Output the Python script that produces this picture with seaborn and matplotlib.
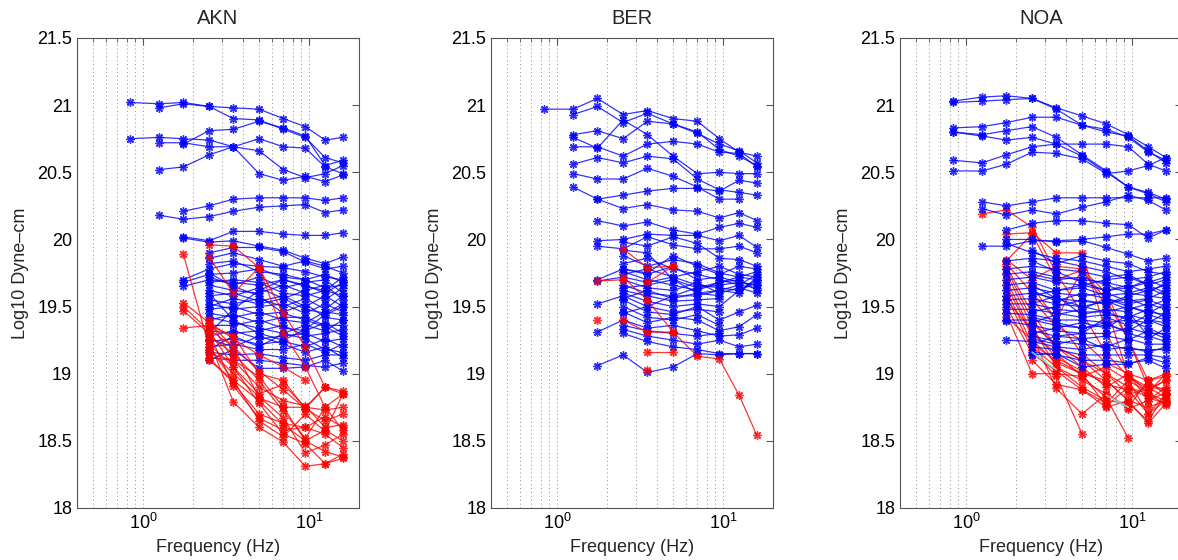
import numpy as np
import pandas as pd
import matplotlib
matplotlib.use("Agg")
import matplotlib.pyplot as plt
import matplotlib.ticker as mticker
import seaborn as sns

n = np.nan
freqs = [0.83, 1.25, 1.75, 2.5, 3.5, 5.0, 7.0, 9.5, 12.5, 16.0]
stations = ["AKN", "BER", "NOA"]
ytick_vals = [18, 18.5, 19, 19.5, 20, 20.5, 21, 21.5]

akn_blue = [
    [21.02, 21.01, 21.02, 20.99, 20.98, 20.97, 20.90, 20.84, 20.74, 20.76],
    [n, 20.98, 21.01, 20.99, 20.90, 20.89, 20.82, 20.76, 20.61, 20.57],
    [20.75, 20.76, 20.75, 20.74, 20.69, 20.66, 20.52, 20.46, 20.49, 20.55],
    [n, 20.72, 20.72, 20.69, 20.69, 20.75, 20.69, 20.68, 20.54, 20.49],
    [n, n, 20.71, 20.81, 20.82, 20.88, 20.83, 20.77, 20.55, 20.59],
    [n, 20.52, 20.54, 20.63, 20.69, 20.49, 20.44, 20.47, 20.43, 20.48],
    [n, n, 20.21, 20.25, 20.30, 20.31, 20.31, 20.31, 20.29, 20.31],
    [n, 20.18, 20.15, 20.17, 20.21, 20.24, 20.25, 20.26, 20.20, 20.22],
    [n, n, 20.02, 19.99, 20.06, 20.06, 20.04, 20.03, 20.03, 20.05],
    [n, n, 20.01, 19.98, 19.99, 19.95, 19.92, 19.86, 19.82, 19.87],
    [n, n, n, 19.90, 19.94, 19.94, 19.91, 19.83, 19.78, 19.80],
    [n, n, n, 19.86, 19.90, 19.85, 19.80, 19.84, 19.80, 19.75],
    [n, n, 19.70, 19.78, 19.82, 19.80, 19.79, 19.76, 19.72, 19.70],
    [n, n, 19.68, 19.74, 19.75, 19.78, 19.72, 19.70, 19.74, 19.68],
    [n, n, 19.65, 19.70, 19.68, 19.66, 19.70, 19.65, 19.62, 19.72],
    [n, n, n, 19.72, 19.66, 19.72, 19.64, 19.68, 19.70, 19.60],
    [n, n, n, 19.66, 19.62, 19.60, 19.66, 19.60, 19.55, 19.64],
    [n, n, n, 19.62, 19.58, 19.64, 19.56, 19.62, 19.66, 19.55],
    [n, n, n, 19.58, 19.60, 19.54, 19.58, 19.50, 19.58, 19.50],
    [n, n, n, 19.55, 19.52, 19.56, 19.50, 19.56, 19.48, 19.58],
    [n, n, n, 19.52, 19.48, 19.50, 19.52, 19.45, 19.52, 19.46],
    [n, n, n, 19.48, 19.50, 19.44, 19.46, 19.52, 19.42, 19.40],
    [n, n, n, 19.45, 19.42, 19.46, 19.40, 19.38, 19.46, 19.44],
    [n, n, n, 19.40, 19.44, 19.38, 19.42, 19.42, 19.36, 19.36],
    [n, n, n, 19.36, 19.36, 19.40, 19.34, 19.32, 19.38, 19.30],
    [n, n, n, 19.32, 19.30, 19.32, 19.36, 19.28, 19.30, 19.33],
    [n, n, n, 19.28, 19.32, 19.26, 19.28, 19.30, 19.24, 19.26],
    [n, n, n, 19.24, 19.26, 19.22, 19.24, 19.20, 19.26, 19.20],
    [n, n, n, 19.20, 19.22, 19.18, 19.18, 19.22, 19.16, 19.22],
    [n, n, n, 19.16, 19.14, 19.15, 19.12, 19.10, 19.14, 19.14],
    [n, n, n, 19.12, 19.10, 19.10, 19.08, 19.06, 19.05, 19.08],
    [n, n, n, 19.10, 19.18, 19.04, 19.04, 19.05, 19.10, 19.02],
    [n, n, n, 19.30, 19.48, 19.62, 19.70, 19.66, 19.60, 19.68],
    [n, n, n, 19.60, 19.40, 19.30, 19.25, 19.33, 19.44, 19.50],
    [n, n, n, 19.75, 19.65, 19.58, 19.45, 19.40, 19.35, 19.28],
    [n, n, n, 19.82, 19.84, 19.76, 19.74, 19.70, 19.64, 19.66],
    [n, n, n, 19.68, 19.70, 19.68, 19.60, 19.58, 19.62, 19.58],
    [n, n, n, 19.50, 19.56, 19.52, 19.56, 19.48, 19.45, 19.52],
    [n, n, n, 19.42, 19.38, 19.34, 19.30, 19.36, 19.32, 19.40],
    [n, n, n, 19.26, 19.20, 19.28, 19.22, 19.16, 19.20, 19.12],
    [n, n, n, 19.18, 19.28, 19.20, 19.30, 19.26, 19.18, 19.16],
]

akn_red = [
    [n, n, 19.89, 19.20, 18.95, 18.80, 18.62, 18.50, 18.42, 18.38],
    [n, n, n, 19.96, 19.95, 19.79, 19.45, 19.20, 18.90, n],
    [n, n, n, 19.87, 19.60, 19.79, 19.30, 19.05, 18.75, 18.85],
    [n, n, 19.53, 19.38, 19.20, 18.82, 18.75, 18.75, 18.90, 18.87],
    [n, n, 19.50, 19.32, 19.05, 18.85, 18.92, 18.75, 18.73, 18.75],
    [n, n, 19.47, 19.30, 18.91, 18.67, 18.58, 18.60, 18.68, 18.60],
    [n, n, 19.34, 19.36, 19.28, 19.00, 18.95, 18.74, 18.90, 18.85],
    [n, n, n, 19.40, 19.10, 18.98, 18.75, 18.50, 18.58, 18.50],
    [n, n, n, 19.25, 18.79, 18.60, 18.49, 18.31, 18.33, 18.37],
    [n, n, n, 19.18, 19.00, 18.83, 18.67, 18.41, 18.47, 18.55],
    [n, n, n, 19.12, 18.93, 18.70, 18.63, 18.60, 18.55, 18.45],
    [n, n, n, 19.15, 19.10, 18.90, 18.80, 18.76, 18.60, 18.62],
    [n, n, n, 19.28, 19.15, 18.95, 18.72, 18.52, 18.75, 18.58],
    [n, n, n, 19.22, 19.05, 18.78, 18.55, 18.48, 18.33, 18.40],
    [n, n, n, 19.33, 19.20, 19.02, 18.88, 18.74, 18.65, 18.70],
    [n, n, n, 19.10, 18.95, 18.65, 18.53, 18.70, 18.57, 18.85],
    [n, n, n, 19.38, 19.26, 19.14, 19.05, 18.95, n, n],
]

ber_blue = [
    [20.97, 20.97, 21.05, 20.93, 20.96, 20.90, 20.88, 20.75, 20.65, 20.62],
    [n, 20.93, 20.99, 20.87, 20.94, 20.86, 20.79, 20.71, 20.66, 20.57],
    [n, 20.78, 20.81, 20.75, 20.88, 20.86, 20.80, 20.67, 20.62, 20.55],
    [n, 20.76, 20.68, 20.89, 20.78, 20.62, 20.49, 20.50, 20.49, 20.49],
    [n, 20.69, 20.69, 20.62, 20.71, 20.73, 20.71, 20.65, 20.64, 20.54],
    [n, 20.56, 20.61, 20.57, 20.62, 20.60, 20.45, 20.37, 20.35, 20.33],
    [n, 20.49, 20.45, 20.45, 20.53, 20.47, 20.39, 20.30, 20.30, n],
    [n, 20.39, 20.30, 20.33, 20.36, 20.38, 20.38, 20.36, 20.44, 20.42],
    [n, n, 20.30, 20.23, 20.26, 20.22, 20.21, 20.16, 20.20, 20.14],
    [n, n, 20.14, 20.10, 20.13, 20.07, 20.04, 20.09, 20.12, 20.09],
    [n, n, 19.99, 20.00, 20.04, 20.03, 20.03, 19.99, 20.03, 19.94],
    [n, n, 19.95, 19.93, 20.02, 19.96, 19.93, 19.93, 19.95, 19.90],
    [n, n, n, 19.88, 19.80, 19.85, 19.82, 19.75, 19.72, 19.70],
    [n, n, n, 19.82, 19.86, 19.78, 19.74, 19.70, 19.66, 19.74],
    [n, n, 19.70, 19.78, 19.74, 19.80, 19.70, 19.72, 19.68, 19.66],
    [n, n, 19.69, 19.72, 19.68, 19.72, 19.66, 19.64, 19.62, 19.70],
    [n, n, n, 19.76, 19.70, 19.66, 19.62, 19.68, 19.70, 19.62],
    [n, n, n, 19.70, 19.64, 19.62, 19.68, 19.60, 19.64, 19.60],
    [n, n, n, 19.66, 19.60, 19.58, 19.58, 19.62, 19.60, 19.72],
    [n, n, n, 19.62, 19.58, 19.54, 19.55, 19.56, n, n],
    [n, n, n, 19.60, 19.54, 19.50, 19.52, 19.50, 19.62, 19.68],
    [n, n, 19.52, 19.58, 19.50, 19.46, 19.48, 19.46, n, n],
    [n, n, n, 19.55, 19.46, 19.44, 19.50, 19.40, 19.46, 19.51],
    [n, n, n, 19.50, 19.42, 19.40, 19.44, 19.36, n, n],
    [n, n, n, 19.46, 19.38, 19.42, 19.40, 19.32, 19.35, 19.44],
    [n, n, 19.31, 19.40, 19.34, 19.36, 19.32, 19.28, 19.29, 19.34],
    [n, n, n, 19.36, 19.32, 19.30, 19.28, 19.30, n, n],
    [n, n, n, 19.33, 19.28, 19.25, 19.22, 19.25, 19.20, 19.22],
    [n, n, n, 19.30, 19.24, 19.20, 19.18, 19.15, 19.15, 19.15],
    [n, n, 19.06, 19.14, 19.01, 19.05, 19.15, 19.14, 19.15, 19.15],
    [n, n, n, 19.78, 19.75, 19.88, 19.80, 19.74, 19.80, 19.78],
    [n, n, n, 19.92, 19.90, 19.70, 19.60, 19.62, 19.66, 19.64],
    [n, n, n, 19.45, 19.50, 19.58, 19.64, 19.68, 19.72, 19.76],
    [n, n, n, 19.98, 19.95, 20.02, 19.97, 19.86, 19.85, 19.80],
    [n, n, n, 19.74, 19.78, 19.72, 19.76, 19.80, 19.74, 19.72],
    [n, n, n, 19.64, 19.66, 19.70, 19.64, 19.66, 19.68, 19.66],
    [n, n, n, 19.56, 19.62, 19.56, 19.60, 19.58, n, n],
]

ber_red = [
    [n, n, 19.69, 19.70, n, n, n, n, n, n],
    [n, n, n, 19.93, 19.79, 19.80, n, n, n, n],
    [n, n, n, n, 19.68, 19.80, n, n, n, n],
    [n, n, n, 19.72, 19.55, 19.31, 19.13, 19.11, 18.84, 18.54],
    [n, n, 19.40, n, n, n, n, n, n, n],
    [n, n, n, 19.40, 19.31, 19.31, n, n, n, n],
    [n, n, n, n, 19.16, 19.16, n, n, n, n],
    [n, n, n, n, 19.03, n, n, n, n, n],
]

noa_blue = [
    [21.03, 21.06, 21.07, 21.05, 20.98, 20.92, 20.86, 20.78, 20.69, 20.61],
    [21.02, 21.03, 21.04, 21.05, 20.97, 20.85, 20.82, 20.76, 20.65, 20.59],
    [20.83, 20.84, 20.87, 20.91, 20.91, 20.85, 20.80, 20.77, 20.66, 20.57],
    [20.80, 20.78, 20.81, 20.84, 20.76, 20.63, 20.51, 20.39, 20.35, 20.30],
    [20.80, 20.77, 20.74, 20.76, 20.71, 20.71, 20.71, 20.69, 20.56, 20.51],
    [20.59, 20.57, 20.63, 20.69, 20.71, 20.62, 20.50, 20.39, 20.34, 20.28],
    [20.51, 20.51, 20.56, 20.65, 20.64, 20.60, 20.49, 20.51, 20.55, 20.61],
    [n, 20.28, 20.25, 20.28, 20.31, 20.31, 20.31, 20.31, 20.31, 20.31],
    [n, 20.23, 20.18, 20.22, 20.19, 20.24, 20.28, 20.33, 20.29, 20.22],
    [n, n, 20.07, 20.12, 20.14, 20.14, 20.12, 20.11, 20.01, 20.07],
    [n, 19.95, 19.95, 19.99, 19.99, 20.00, 20.02, 20.04, 20.04, 20.07],
    [n, n, 20.00, 20.00, 19.98, 19.99, 19.94, 19.89, 19.84, 19.86],
    [n, n, 19.84, 19.86, 19.84, 19.80, 19.76, 19.70, 19.72, 19.76],
    [n, n, 19.78, 19.80, 19.78, 19.76, 19.72, 19.74, 19.66, 19.70],
    [n, n, 19.74, 19.76, 19.72, 19.70, 19.68, 19.64, 19.70, 19.64],
    [n, n, 19.70, 19.72, 19.68, 19.66, 19.62, 19.66, 19.60, 19.68],
    [n, n, 19.66, 19.68, 19.62, 19.64, 19.58, 19.60, 19.64, 19.58],
    [n, n, 19.62, 19.64, 19.60, 19.58, 19.60, 19.54, 19.56, 19.62],
    [n, n, 19.58, 19.60, 19.56, 19.54, 19.52, 19.56, 19.50, 19.55],
    [n, n, 19.55, 19.56, 19.52, 19.50, 19.54, 19.48, 19.52, 19.48],
    [n, n, 19.52, 19.52, 19.48, 19.46, 19.46, 19.50, 19.45, 19.52],
    [n, n, 19.48, 19.48, 19.45, 19.42, 19.44, 19.42, 19.48, 19.42],
    [n, n, 19.45, 19.44, 19.40, 19.40, 19.38, 19.40, 19.38, 19.45],
    [n, n, 19.40, 19.40, 19.36, 19.34, 19.36, 19.32, 19.40, 19.35],
    [n, n, 19.39, 19.36, 19.32, 19.30, 19.30, 19.34, 19.30, 19.30],
    [n, n, n, 19.32, 19.28, 19.26, 19.28, 19.25, 19.32, 19.26],
    [n, n, n, 19.28, 19.24, 19.22, 19.20, 19.26, 19.22, 19.22],
    [n, n, 19.25, 19.24, 19.20, 19.18, 19.22, 19.18, 19.18, 19.18],
    [n, n, n, 19.20, 19.18, 19.14, 19.14, 19.14, 19.14, 19.12],
    [n, n, n, 19.16, 19.14, 19.10, 19.10, 19.08, 19.10, 19.04],
    [n, n, n, 19.14, 19.15, 19.05, 19.07, 19.07, 19.12, 19.08],
    [n, n, 19.97, 19.90, 19.86, 19.84, 19.80, 19.76, 19.78, 19.80],
    [n, n, n, 19.92, 19.82, 19.88, 19.84, 19.82, 19.76, 19.74],
    [n, n, n, 19.74, 19.70, 19.72, 19.66, 19.60, 19.58, 19.56],
    [n, n, n, 19.58, 19.62, 19.66, 19.70, 19.72, 19.66, 19.60],
    [n, n, n, 19.46, 19.50, 19.55, 19.52, 19.58, 19.62, 19.66],
    [n, n, n, 19.38, 19.44, 19.48, 19.56, 19.52, 19.55, 19.50],
    [n, n, n, 19.30, 19.34, 19.38, 19.34, 19.44, 19.40, 19.38],
    [n, n, n, 19.22, 19.28, 19.30, 19.42, 19.36, 19.44, 19.40],
    [n, n, n, 19.66, 19.56, 19.50, 19.46, 19.40, 19.34, 19.28],
    [n, n, n, 19.52, 19.58, 19.44, 19.48, 19.46, 19.28, 19.24],
    [n, n, n, 19.84, 19.76, 19.68, 19.62, 19.64, 19.68, 19.72],
    [n, n, n, 19.62, 19.54, 19.60, 19.56, 19.50, 19.46, 19.44],
    [n, n, n, 19.42, 19.38, 19.34, 19.38, 19.30, 19.26, 19.34],
    [n, n, n, 19.26, 19.22, 19.26, 19.18, 19.20, 19.16, 19.20],
]

noa_red = [
    [n, 20.19, 20.22, 20.09, 19.75, 19.45, 19.15, 18.98, 18.90, 18.88],
    [n, n, 20.04, 20.05, 19.90, 19.90, 19.30, 19.00, 18.85, 18.80],
    [n, n, 19.84, 20.04, 19.70, 19.77, 19.55, 19.25, 18.95, 18.84],
    [n, n, 19.82, 19.60, 19.40, 19.78, 19.50, 18.98, 18.88, 18.95],
    [n, n, 19.78, 19.40, 19.20, 19.10, 18.95, 18.80, 18.75, 18.80],
    [n, n, 19.75, 19.35, 19.05, 18.90, 18.80, 18.78, 18.65, 18.85],
    [n, n, 19.70, 19.30, 19.15, 18.98, 18.82, 18.52, n, n],
    [n, n, 19.66, 19.28, 18.89, 18.70, 18.85, 18.75, 18.95, 19.00],
    [n, n, 19.62, 19.22, 19.10, 19.00, 18.76, 18.90, 18.82, 18.78],
    [n, n, 19.58, 19.18, 18.98, 18.55, n, n, n, n],
    [n, n, 19.55, 19.32, 19.12, 19.02, 18.92, 18.88, 18.70, 18.85],
    [n, n, 19.50, 19.15, 19.02, 18.88, 18.75, 18.80, 18.92, 18.88],
    [n, n, 19.45, 19.00, 19.00, 18.98, 19.05, 18.95, 18.70, 18.80],
    [n, n, 19.42, 19.25, 19.08, 19.00, 18.95, 18.80, 18.63, 18.78],
    [n, n, 19.80, 19.45, 19.20, 19.05, 18.90, 19.00, 18.80, 18.86],
    [n, n, n, 19.38, 19.20, 19.10, 19.00, 18.85, 18.88, 18.95],
    [n, n, n, 19.20, 19.05, 18.95, 18.85, 18.74, 18.80, 18.90],
    [n, n, n, 19.10, 18.92, 18.88, 18.78, 18.95, 18.86, 19.00],
    [n, n, n, 19.65, 19.40, 19.15, 19.00, 18.90, 18.85, 18.77],
    [n, n, n, 19.55, 19.35, 19.25, 19.08, 19.00, 18.95, 18.98],
    [n, n, 19.85, 19.70, 19.80, 19.78, 19.60, 19.25, 18.90, 18.82],
]

noa_cyan = [
    [n, n, n, 19.16, 19.03, n, n, n, n, n],
    [n, n, n, n, n, n, 18.84, 18.75, n, n],
]

series = {
    "AKN": [("blue", akn_blue), ("red", akn_red)],
    "BER": [("blue", ber_blue), ("red", ber_red)],
    "NOA": [("red", noa_red), ("blue", noa_blue), ("cyan", noa_cyan)],
}
palette = {"blue": "#0000ff", "red": "#ff0000", "cyan": "#7fe3e6"}

def to_long(rows):
    recs = []
    for i, row in enumerate(rows):
        for f, v in zip(freqs, row):
            if not np.isnan(v):
                recs.append({"uid": i, "freq": f, "val": v})
    return pd.DataFrame(recs)

sns.set_style("white")
plt.rcParams["font.family"] = ["Liberation Sans", "DejaVu Sans"]
plt.rcParams["mathtext.fontset"] = "custom"
plt.rcParams["mathtext.rm"] = "Liberation Sans"
plt.rcParams["mathtext.it"] = "Liberation Sans"

fig = plt.figure(figsize=(11.78, 5.6), dpi=100)
lefts = [77 / 1178, 491 / 1178, 900 / 1178]
W = 282 / 1178
B = 1 - 508 / 560
H = 470 / 560
spine_c = "#555555"

for st, lx in zip(stations, lefts):
    ax = fig.add_axes([lx, B, W, H])
    ax.set_xscale("log")
    for kind, rows in series[st]:
        df = to_long(rows)
        col = palette[kind]
        if kind == "cyan":
            sns.lineplot(data=df, x="freq", y="val", units="uid", estimator=None,
                         color=col, linewidth=1.2, alpha=0.9, legend=False, ax=ax)
            continue
        sns.lineplot(data=df, x="freq", y="val", units="uid", estimator=None,
                     color=col, marker=(8, 2, 0), markersize=6,
                     markeredgecolor=col, markeredgewidth=1.0,
                     linewidth=0.9, alpha=0.8, legend=False, ax=ax)
    for ln in ax.get_lines():
        ln.set_markeredgecolor(ln.get_color())
    ax.set_xlim(0.4, 20)
    ax.set_ylim(18, 21.5)
    ax.set_yticks(ytick_vals)
    ax.yaxis.set_major_formatter(mticker.FormatStrFormatter("%g"))
    ax.xaxis.set_major_locator(mticker.LogLocator(base=10, numticks=10))
    ax.xaxis.set_minor_locator(mticker.LogLocator(base=10, subs=np.arange(2, 10), numticks=10))
    ax.xaxis.set_minor_formatter(mticker.NullFormatter())
    ax.grid(True, which="both", axis="x", linestyle=(0, (1, 3)), color="#888888", linewidth=0.7)
    ax.grid(False, axis="y")
    ax.tick_params(axis="both", which="both", direction="in", top=True, right=True,
                   colors=spine_c, labelcolor="black", labelsize=13)
    ax.tick_params(which="major", length=5)
    ax.tick_params(which="minor", length=3)
    for s in ax.spines.values():
        s.set_color(spine_c)
        s.set_linewidth(0.8)
    ax.set_title(st, fontsize=14.5, pad=10)
    ax.set_xlabel("Frequency (Hz)", fontsize=13, labelpad=4)
    ax.set_ylabel("Log10 Dyne\u2013cm", fontsize=13, labelpad=6)

fig.savefig("out.png", dpi=100)
